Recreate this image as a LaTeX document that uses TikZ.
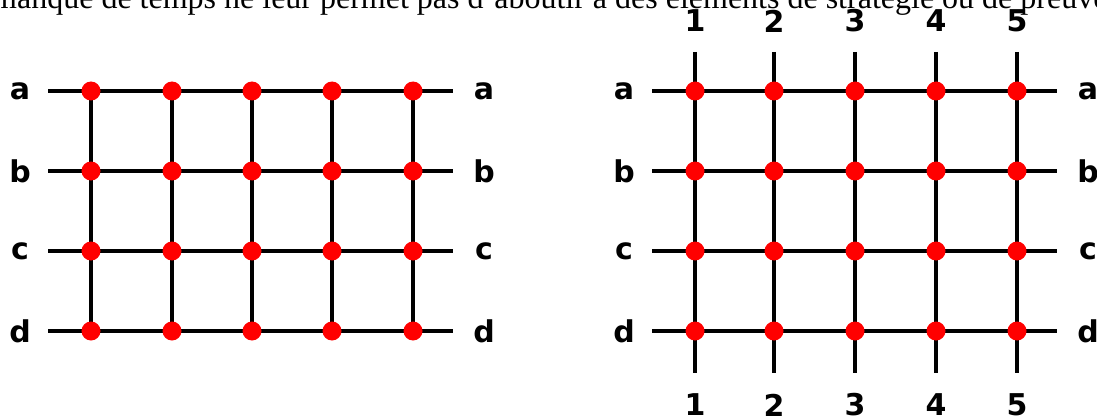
\documentclass[tikz,border=0pt]{standalone}
\usepackage{fontspec}
\setmainfont{Liberation Serif}
\newfontfamily\labfont{DejaVu Sans Bold}
\begin{document}
\begin{tikzpicture}[x=1pt,y=-1pt,
  gridline/.style={line width=4pt,black},
  dot/.style={circle,fill=red,inner sep=0pt,minimum size=19pt},
  lbl/.style={font=\labfont\fontsize{30}{30}\selectfont,inner sep=0pt},
  toptext/.style={font=\fontsize{32}{32}\selectfont,inner sep=0pt,anchor=base west}]
\useasboundingbox (0,0) rectangle (1097,417);
\clip (0,0) rectangle (1097,417);
\fill[white] (0,0) rectangle (1097,417);
\node[toptext] (txt) at (-8,9) {manque de temps ne leur permet pas d'aboutir à des éléments de stratégie ou de preuve};
% left grid
\foreach \r/\y in {a/91,b/171,c/251,d/331} {
  \coordinate (Lw\r) at (48,\y);
  \coordinate (Le\r) at (453,\y);
  \node[lbl] (Lla\r) at (20,\y) {\r};
  \node[lbl] (Lra\r) at (484,\y) {\r};
  \foreach \c/\x in {1/91,2/172,3/252,4/332,5/413}
    \coordinate (L\r\c) at (\x,\y);
}
\foreach \r in {a,b,c,d} \draw[gridline] (Lw\r) -- (Le\r);
\foreach \c in {1,...,5} \draw[gridline] (La\c) -- (Ld\c);
\foreach \r in {a,b,c,d} \foreach \c in {1,...,5} \node[dot] (LD\r\c) at (L\r\c) {};
% right grid
\foreach \r/\y in {a/91,b/171,c/251,d/331} {
  \coordinate (Rw\r) at (652,\y);
  \coordinate (Re\r) at (1057,\y);
  \node[lbl] (Rla\r) at (624,\y) {\r};
  \node[lbl] (Rra\r) at (1088,\y) {\r};
  \foreach \c/\x in {1/695,2/774,3/855,4/936,5/1017}
    \coordinate (R\r\c) at (\x,\y);
}
\foreach \c/\x in {1/695,2/774,3/855,4/936,5/1017} {
  \coordinate (Rn\c) at (\x,52);
  \coordinate (Rs\c) at (\x,373);
  \node[lbl] (Rtn\c) at (\x,21) {\c};
  \node[lbl] (Rbn\c) at (\x,405) {\c};
}
\foreach \r in {a,b,c,d} \draw[gridline] (Rw\r) -- (Re\r);
\foreach \c in {1,...,5} \draw[gridline] (Rn\c) -- (Rs\c);
\foreach \r in {a,b,c,d} \foreach \c in {1,...,5} \node[dot] (RD\r\c) at (R\r\c) {};
\end{tikzpicture}
\end{document}
